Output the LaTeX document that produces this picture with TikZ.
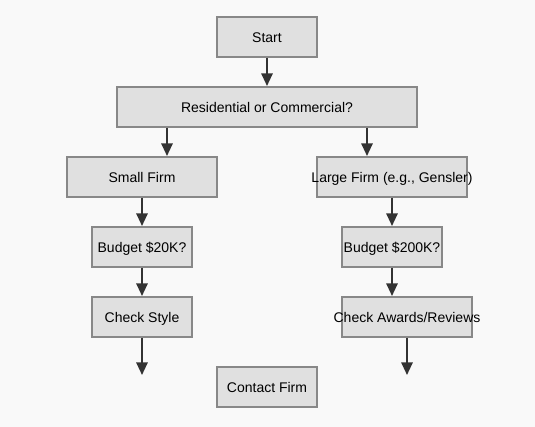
\documentclass[tikz,border=0pt]{standalone}
\usepackage{fontspec}
\setmainfont{Liberation Sans}
\usetikzlibrary{arrows.meta}
\definecolor{bg}{RGB}{249,249,249}
\definecolor{boxfill}{RGB}{224,224,224}
\definecolor{boxline}{RGB}{136,136,136}
\definecolor{arr}{RGB}{51,51,51}
\tikzstyle{bx}=[rectangle,draw=boxline,fill=boxfill,line width=1.5pt,inner sep=0pt,minimum height=30pt,text height=9pt,text depth=1pt,font=\fontsize{10.5}{12}\selectfont]
\tikzstyle{ar}=[draw=arr,line width=1.5pt,-{Triangle[length=9.5pt,width=8.5pt]}]

\begin{document}
\begin{tikzpicture}[x=.75pt,y=-.75pt]
\fill[bg] (0,0) rectangle (535,427);
\node[bx,minimum width=75pt] (start) at (267,37) {Start};
\node[bx,minimum width=225pt] (rc) at (267,107) {Residential or Commercial?};
\node[bx,minimum width=112.5pt] (small) at (142,177) {Small Firm};
\node[bx,minimum width=112.5pt] (large) at (392,177) {\makebox[0pt]{Large Firm (e.g., Gensler)}};
\node[bx,minimum width=75pt] (b20) at (142,247) {Budget \$20K?};
\node[bx,minimum width=75pt] (b200) at (392,247) {\makebox[0pt]{Budget \$200K?}};
\node[bx,minimum width=75pt] (style) at (142,317) {Check Style};
\node[bx,minimum width=97.5pt] (awards) at (407,317) {\makebox[0pt]{Check Awards/Reviews}};
\node[bx,minimum width=75pt] (contact) at (267,387) {Contact Firm};
\coordinate (endl) at (142,375);
\coordinate (endr) at (407,375);
% arrows
\draw[ar] (start) -- (rc);
\draw[ar] (rc.south -| 167,0) -- (small.north -| 167,0);
\draw[ar] (rc.south -| 367,0) -- (large.north -| 367,0);
\draw[ar] (small) -- (b20);
\draw[ar] (large) -- (b200);
\draw[ar] (b20) -- (style);
\draw[ar] (b200) -- (awards.north -| b200);
\draw[ar] (style) -- (endl);
\draw[ar] (awards) -- (endr);
\end{tikzpicture}
\end{document}
